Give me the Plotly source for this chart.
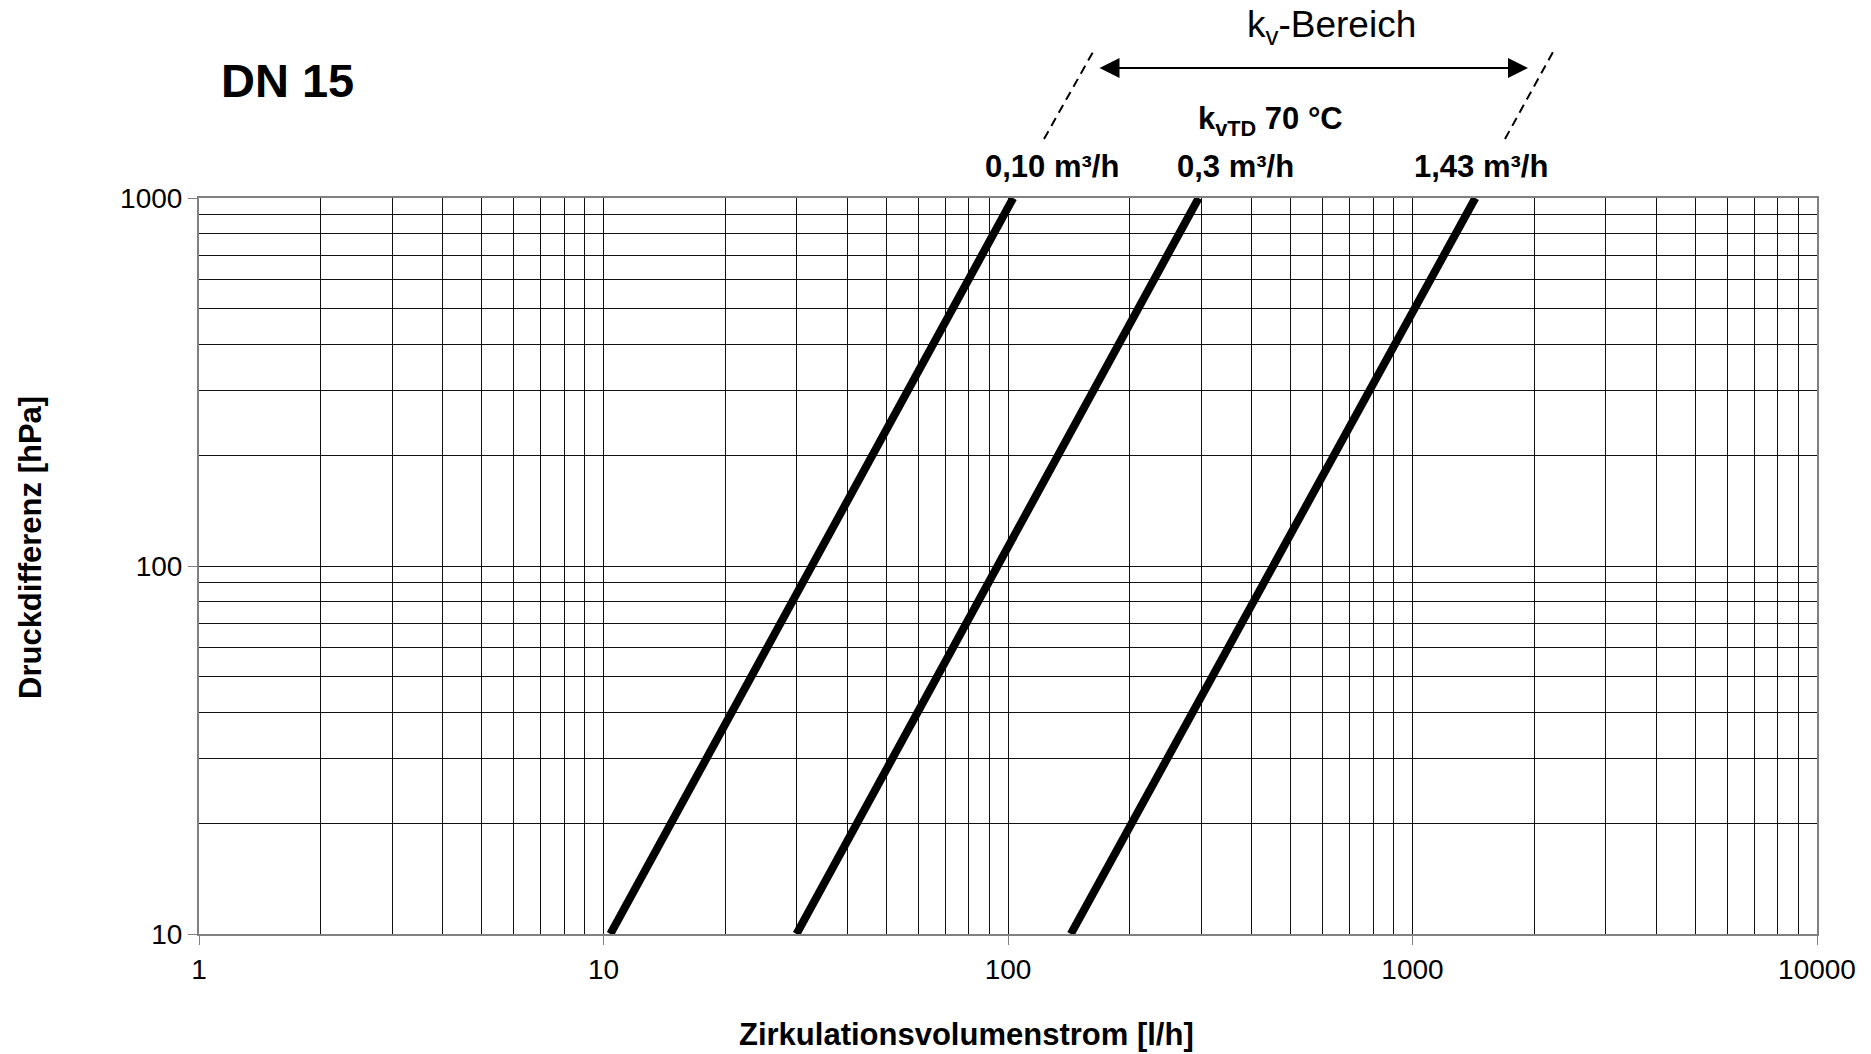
import plotly.graph_objects as go

# Data
dp_hpa = [10, 1000]                      # Druckdifferenz [hPa] at line ends
flow_kv010 = [10.4, 103]                 # l/h for kvTD 0,10 m³/h
flow_kv03 = [30, 296]                    # l/h for kvTD 0,3 m³/h
flow_kv143 = [143, 1430]                 # l/h for kvTD 1,43 m³/h
series_names = ["0,10 m³/h", "0,3 m³/h", "1,43 m³/h"]
x_ticks = [1, 10, 100, 1000, 10000]
y_ticks = [10, 100, 1000]
x_minor = [m * d for d in [1, 10, 100, 1000] for m in range(2, 10)]
y_minor = [m * d for d in [10, 100] for m in range(2, 10)]

FONT = "Liberation Sans, Arial, sans-serif"

fig = go.Figure()
for name, q in zip(series_names, [flow_kv010, flow_kv03, flow_kv143]):
    fig.add_trace(go.Scatter(x=q, y=dp_hpa, mode="lines", name=name,
                             line=dict(color="black", width=8),
                             showlegend=False, hoverinfo="skip"))

GRID = "#111111"
axis_common = dict(
    type="log", showline=True, mirror=True, linecolor="#808080", linewidth=2,
    showgrid=True, gridcolor=GRID, gridwidth=1,
    ticks="outside", ticklen=9, tickcolor="#808080", tickwidth=1,
    tickfont=dict(family=FONT, size=28, color="black"),
    zeroline=False,
)

fig.update_xaxes(range=[0, 4], tickvals=x_ticks, ticktext=[str(v) for v in x_ticks],
                 minor=dict(tickvals=x_minor, showgrid=True, gridcolor=GRID,
                            gridwidth=1, ticks=""),
                 **axis_common)
fig.update_yaxes(range=[1, 3], tickvals=y_ticks, ticktext=[str(v) for v in y_ticks],
                 minor=dict(tickvals=y_minor, showgrid=True, gridcolor=GRID,
                            gridwidth=1, ticks=""),
                 **axis_common)

W, H = 1871, 1054
L, R, T, B = 199, 54, 198, 120
PW, PH = W - L - R, H - T - B


def px(x):
    return (x - L) / PW


def py(y):
    return (H - B - y) / PH


ann = []
# axis titles
ann.append(dict(x=px(966), y=py(1034), xref="paper", yref="paper",
                text="<b>Zirkulationsvolumenstrom [l/h]</b>", showarrow=False,
                font=dict(family=FONT, size=31, color="black"),
                xanchor="center", yanchor="middle"))
ann.append(dict(x=px(30), y=py(548), xref="paper", yref="paper",
                text="<b>Druckdifferenz [hPa]</b>", showarrow=False, textangle=-90,
                font=dict(family=FONT, size=31, color="black"),
                xanchor="center", yanchor="middle"))
# DN 15
ann.append(dict(x=px(287), y=py(81), xref="paper", yref="paper",
                text="<b>DN 15</b>", showarrow=False,
                font=dict(family=FONT, size=47, color="black"),
                xanchor="center", yanchor="middle"))
# series labels
for name, cx in zip(series_names, [1052, 1235, 1481]):
    ann.append(dict(x=px(cx), y=py(167), xref="paper", yref="paper",
                    text=f"<b>{name}</b>", showarrow=False,
                    font=dict(family=FONT, size=31, color="black"),
                    xanchor="center", yanchor="middle"))
ann.append(dict(x=px(1270), y=py(121), xref="paper", yref="paper",
                text="<b>k<sub>vTD</sub> 70 °C</b>", showarrow=False,
                font=dict(family=FONT, size=31, color="black"),
                xanchor="center", yanchor="middle"))
ann.append(dict(x=px(1331), y=py(27), xref="paper", yref="paper",
                text="k<sub>v</sub>-Bereich", showarrow=False,
                font=dict(family=FONT, size=37, color="black"),
                xanchor="center", yanchor="middle"))
# double arrow
ann.append(dict(x=px(1528), y=py(68), xref="paper", yref="paper",
                ax=-(1528 - 1098), ay=0, axref="pixel", ayref="pixel",
                text="", showarrow=True, arrowhead=2, arrowsize=2,
                arrowwidth=2, arrowcolor="black", arrowside="end+start",
                standoff=0, startstandoff=0))

shapes = []
for (x0, y0, x1, y1) in [(1044, 139, 1093, 52), (1505, 139, 1553, 52)]:
    shapes.append(dict(type="line", xref="paper", yref="paper",
                       x0=px(x0), y0=py(y0), x1=px(x1), y1=py(y1),
                       line=dict(color="black", width=2, dash="9px,6px")))

fig.update_layout(
    width=W, height=H,
    margin=dict(l=L, r=R, t=T, b=B, pad=0),
    paper_bgcolor="white", plot_bgcolor="white",
    annotations=ann, shapes=shapes,
    font=dict(family=FONT, color="black"),
)

fig.write_html("out.html",
               config={"displayModeBar": False},
               post_script="document.body.style.margin='0px';document.body.style.overflow='hidden';")
